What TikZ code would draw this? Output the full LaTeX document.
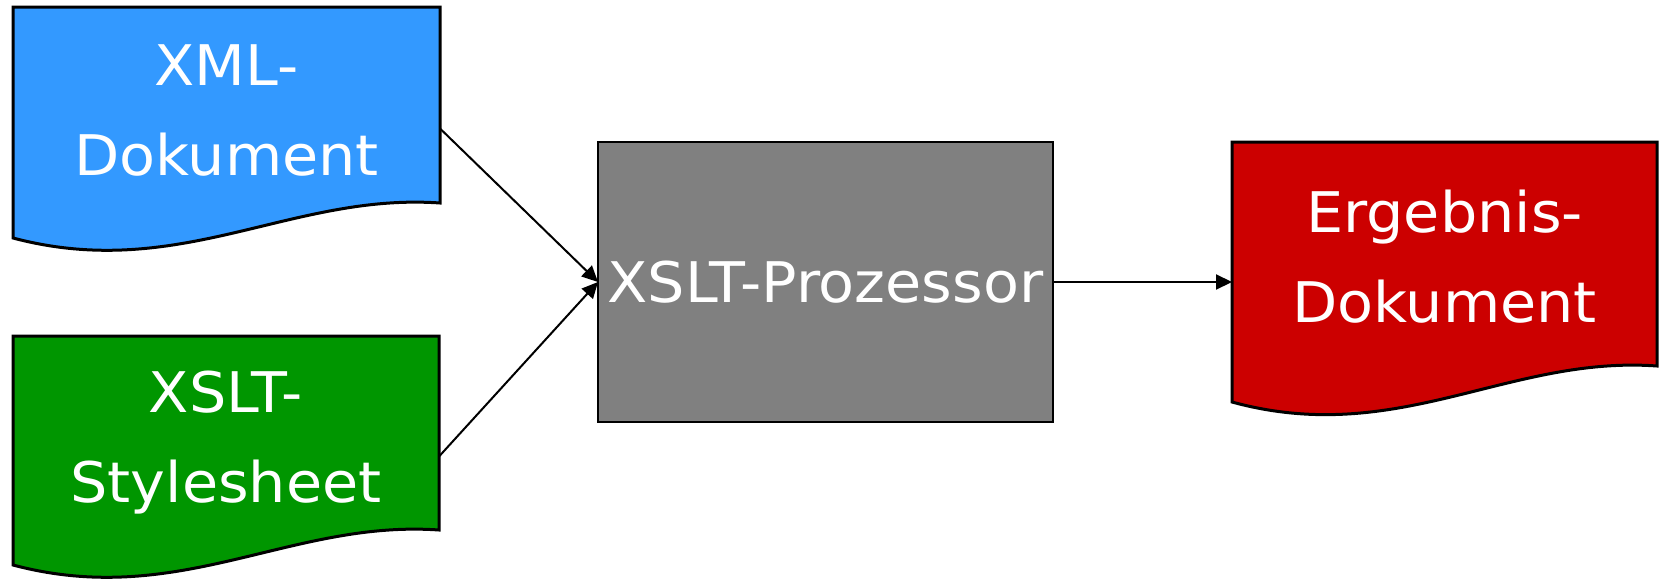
\documentclass[tikz,border=0pt]{standalone}
\usepackage{fontspec}
\setmainfont{DejaVu Sans}[FakeStretch=1.05]
\usetikzlibrary{arrows.meta}

\definecolor{xmlblue}{RGB}{51,153,255}
\definecolor{xslgreen}{RGB}{0,150,0}
\definecolor{resred}{RGB}{204,0,0}
\definecolor{procgray}{RGB}{128,128,128}

% document sheet with a wavy lower edge:
% #1 left, #2 top, #3 right, #4 lower edge at right, #5 lower edge at left, #6 fill
\newcommand\docsheet[6]{%
  \pgfmathsetmacro\dW{#3-#1}\pgfmathsetmacro\dD{#5-#4}%
  \pgfmathsetmacro\cax{#1+0.39*\dW}\pgfmathsetmacro\cay{#5+1.26*\dD}%
  \pgfmathsetmacro\cbx{#1+0.65*\dW}\pgfmathsetmacro\cby{#4-0.3*\dD}%
  \path[docline, fill=#6] (#1,#2) -- (#3,#2) -- (#3,#4)
    .. controls (\cbx,\cby) and (\cax,\cay) .. (#1,#5) -- cycle;}

\tikzset{
  docline/.style={draw=black, line width=1.5pt, line join=miter},
  docbox/.style={rectangle, inner sep=0pt, outer sep=0pt},
  doctext/.style={text=white, align=center, inner sep=0pt,
    font=\fontsize{28}{45}\selectfont},
  procbox/.style={rectangle, draw=black, line width=1pt, fill=procgray,
    text=white, inner sep=0pt, outer sep=0pt,
    minimum width=227.5pt, minimum height=140pt,
    font=\fontsize{28}{45}\selectfont},
  flow/.style={draw=black, line width=1pt,
    -{Triangle[length=8pt,width=7.5pt]}}
}

\begin{document}
\begin{tikzpicture}[x=0.5pt,y=-0.5pt]
\useasboundingbox (0,0) rectangle (1659,578);

% document outlines
\docsheet{13}{7}{440}{203}{238}{xmlblue}
\docsheet{13}{336}{439}{530}{565}{xslgreen}
\docsheet{1232}{142}{1657}{366}{402}{resred}

% document nodes (outer extent of each sheet)
\node[docbox, minimum width=213.5pt, minimum height=121.5pt] (xml) at (226.5,128.5) {};
\node[docbox, minimum width=213pt, minimum height=120.5pt] (xsl) at (226,456.5) {};
\node[docbox, minimum width=212.5pt, minimum height=136pt] (res) at (1444.5,282) {};

\node[doctext] (xmltxt) at (226.5,110) {XML-\\Dokument};
\node[doctext] (xsltxt) at (226,443) {XSLT-\\Stylesheet};
\node[doctext] (restxt) at (1444.5,257) {Ergebnis-\\Dokument};

% processor
\node[procbox] (proc) at (825.5,282) {XSLT-Prozessor};

% connectors
\draw[flow] (xml.east) -- (proc.west);
\draw[flow] (xsl.east) -- (proc.west);
\draw[flow] (proc.east) -- (res.west);
\end{tikzpicture}
\end{document}
